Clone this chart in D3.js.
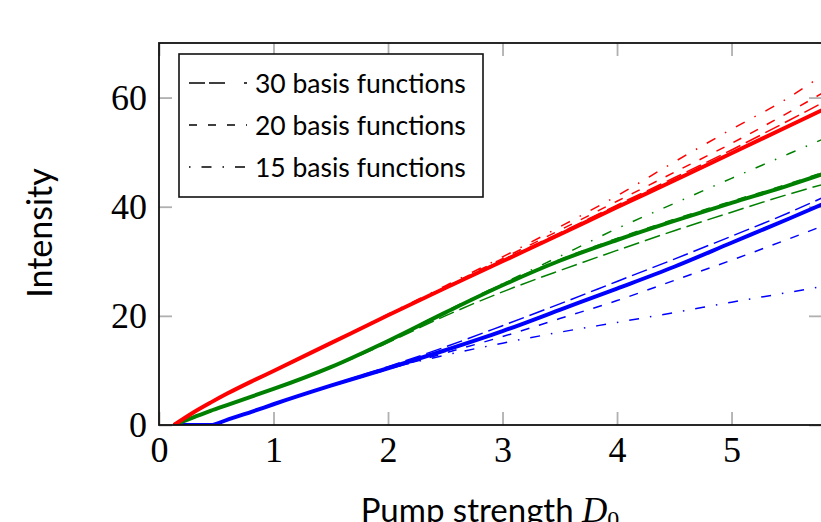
<!DOCTYPE html>
<html>
<head>
<meta charset="utf-8">
<script src="https://cdn.jsdelivr.net/npm/d3@7/dist/d3.min.js"></script>
<style>
  body { margin: 0; background: #fff; }
  svg { display: block; }
  .tick line { stroke: #b0b0b0; stroke-width: 1.8; }
  .tick text { font-family: 'Liberation Serif', serif; font-size: 36px; fill: #000; }
  .sans { font-family: Lato, 'Open Sans', sans-serif; fill: #000; }
</style>
</head>
<body>
<svg id="svg" width="821" height="522"></svg>
<script>
// pump strength samples
const pump = [0.13, 0.3, 0.45, 0.6, 0.82, 1, 1.5, 2, 2.5, 3, 3.5, 4, 4.5, 5, 5.5, 5.8]

// red mode
const redFull = [0, 2.3, 4.1, 5.8, 8.1, 9.9, 15.0, 20.1, 25.1, 30.0, 34.9, 39.9, 44.8, 49.8, 54.8, 57.8]
const red30 = [0, 2.3, 4.1, 5.8, 8.1, 9.9, 15.0, 20.1, 25.2, 30.2, 35.2, 40.3, 45.3, 50.4, 55.8, 59.1]
const red20 = [0, 2.3, 4.1, 5.8, 8.1, 9.9, 15.0, 20.2, 25.3, 30.5, 35.7, 41.0, 46.3, 51.6, 57.3, 60.9]
const red15 = [0, 2.3, 4.1, 5.8, 8.1, 9.9, 15.1, 20.3, 25.5, 30.8, 36.3, 42.0, 48.2, 54.2, 60.0, 64.2]

// green mode
const greenFull = [0, 1.4, 2.6, 3.7, 5.3, 6.6, 10.6, 15.4, 20.6, 25.6, 30.1, 33.9, 37.4, 40.7, 43.9, 46.0]
const green30 = [0, 1.4, 2.6, 3.7, 5.3, 6.6, 10.5, 15.1, 20.0, 24.4, 28.3, 32.0, 35.6, 39.0, 42.3, 44.1]
const green20 = [0, 1.4, 2.6, 3.7, 5.3, 6.6, 10.6, 15.5, 20.7, 25.8, 30.3, 34.2, 37.7, 41.0, 44.2, 46.3]
const green15 = [0, 1.4, 2.6, 3.7, 5.3, 6.6, 10.6, 15.5, 20.8, 25.9, 30.9, 36.0, 40.6, 45.2, 49.7, 52.4]

// blue mode
const blueFull = [0, 0, 0, 1.0, 2.5, 3.8, 7.2, 10.4, 13.7, 17.2, 21.1, 25.0, 29.0, 33.4, 37.8, 40.5]
const blue30 = [0, 0, 0, 1.0, 2.5, 3.8, 7.3, 10.7, 14.3, 18.2, 22.2, 26.3, 30.4, 34.6, 38.9, 41.7]
const blue20 = [0, 0, 0, 1.0, 2.5, 3.8, 7.1, 10.2, 13.2, 16.2, 19.5, 22.8, 26.5, 30.2, 34.1, 36.5]
const blue15 = [0, 0, 0, 1.0, 2.5, 3.8, 7.2, 10.3, 12.8, 15.0, 17.0, 18.8, 20.6, 22.5, 24.3, 25.4]

const xTicks = [0, 1, 2, 3, 4, 5]
const yTicks = [0, 20, 40, 60]
const legendLabels = ['30 basis functions', '20 basis functions', '15 basis functions']

const LEFT = 159
const RIGHT = 822
const TOP = 43
const BOTTOM = 425
const TICK = 13

const DASH = {
  full: null,
  b30: '16,6',
  b20: '9,10',
  b15: '10,11,1.5,11'
}

const series = [
  { v: red30, c: '#ff0000', s: 'b30' },
  { v: red20, c: '#ff0000', s: 'b20' },
  { v: red15, c: '#ff0000', s: 'b15' },
  { v: green30, c: '#008000', s: 'b30' },
  { v: green20, c: '#008000', s: 'b20' },
  { v: green15, c: '#008000', s: 'b15' },
  { v: blue30, c: '#0000ff', s: 'b30' },
  { v: blue20, c: '#0000ff', s: 'b20' },
  { v: blue15, c: '#0000ff', s: 'b15' },
  { v: blueFull, c: '#0000ff', s: 'full' },
  { v: greenFull, c: '#008000', s: 'full' },
  { v: redFull, c: '#ff0000', s: 'full' }
]

const svg = d3.select('svg')
const x = d3.scaleLinear().domain([0, 5.79]).range([LEFT, RIGHT])
const y = d3.scaleLinear().domain([0, 70]).range([BOTTOM, TOP])

svg.append('clipPath').attr('id', 'clip')
  .append('rect')
  .attr('x', LEFT).attr('y', TOP)
  .attr('width', RIGHT - LEFT).attr('height', BOTTOM - TOP)

// ticks, pointing inwards
svg.append('g')
  .attr('transform', 'translate(0,' + BOTTOM + ')')
  .call(d3.axisBottom(x).tickValues(xTicks).tickFormat(d3.format('d'))
    .tickSizeInner(-TICK).tickSizeOuter(0).tickPadding(11))
svg.append('g')
  .attr('transform', 'translate(0,' + TOP + ')')
  .call(d3.axisTop(x).tickValues(xTicks).tickSizeInner(-TICK).tickSizeOuter(0).tickFormat(''))
svg.append('g')
  .attr('transform', 'translate(' + LEFT + ',0)')
  .call(d3.axisLeft(y).tickValues(yTicks).tickFormat(d3.format('d'))
    .tickSizeInner(-TICK).tickSizeOuter(0).tickPadding(12))
svg.append('g')
  .attr('transform', 'translate(' + RIGHT + ',0)')
  .call(d3.axisRight(y).tickValues(yTicks).tickSizeInner(-TICK).tickSizeOuter(0).tickFormat(''))
svg.selectAll('.domain').remove()

const line = d3.line()
  .x((d, i) => x(pump[i]))
  .y(d => y(d))
  .curve(d3.curveMonotoneX)

svg.append('g')
  .attr('clip-path', 'url(#clip)')
  .selectAll('path')
  .data(series)
  .join('path')
  .attr('d', d => line(d.v))
  .attr('fill', 'none')
  .attr('stroke', d => d.c)
  .attr('stroke-width', d => d.s === 'full' ? 4 : 1.5)
  .attr('stroke-dasharray', d => DASH[d.s])

// frame
svg.append('rect')
  .attr('x', LEFT).attr('y', TOP)
  .attr('width', RIGHT - LEFT).attr('height', BOTTOM - TOP)
  .attr('fill', 'none')
  .attr('stroke', '#111')
  .attr('stroke-width', 1.8)

// legend
const lg = svg.append('g').attr('transform', 'translate(179,54)')
lg.append('rect')
  .attr('width', 304).attr('height', 143)
  .attr('fill', '#fff').attr('stroke', '#111').attr('stroke-width', 1.6)
const legendDash = ['16,4,16,19', '8,11', '1.5,11,10,11']
legendLabels.forEach((t, i) => {
  const cy = 29 + i * 42
  lg.append('line')
    .attr('x1', 10).attr('x2', 68)
    .attr('y1', cy).attr('y2', cy)
    .attr('stroke', '#000').attr('stroke-width', 1.5)
    .attr('stroke-dasharray', legendDash[i])
  lg.append('text')
    .attr('class', 'sans')
    .attr('x', 76).attr('y', cy)
    .attr('dy', '0.36em')
    .style('font-size', '26.5px')
    .text(t)
})

// axis titles
svg.append('text')
  .attr('class', 'sans')
  .attr('transform', 'translate(40,233) rotate(-90)')
  .attr('text-anchor', 'middle')
  .attr('dy', '0.35em')
  .style('font-size', '34px')
  .text('Intensity')

const xt = svg.append('text')
  .attr('class', 'sans')
  .attr('x', 490).attr('y', 522)
  .attr('text-anchor', 'middle')
  .style('font-size', '33px')
xt.append('tspan').text('Pump strength ')
xt.append('tspan')
  .style('font-family', "'Liberation Serif', serif")
  .style('font-style', 'italic')
  .style('font-size', '35px')
  .text('D')
xt.append('tspan')
  .style('font-family', "'Liberation Serif', serif")
  .style('font-size', '24px')
  .attr('dy', 5)
  .text('0')
</script>
</body>
</html>
